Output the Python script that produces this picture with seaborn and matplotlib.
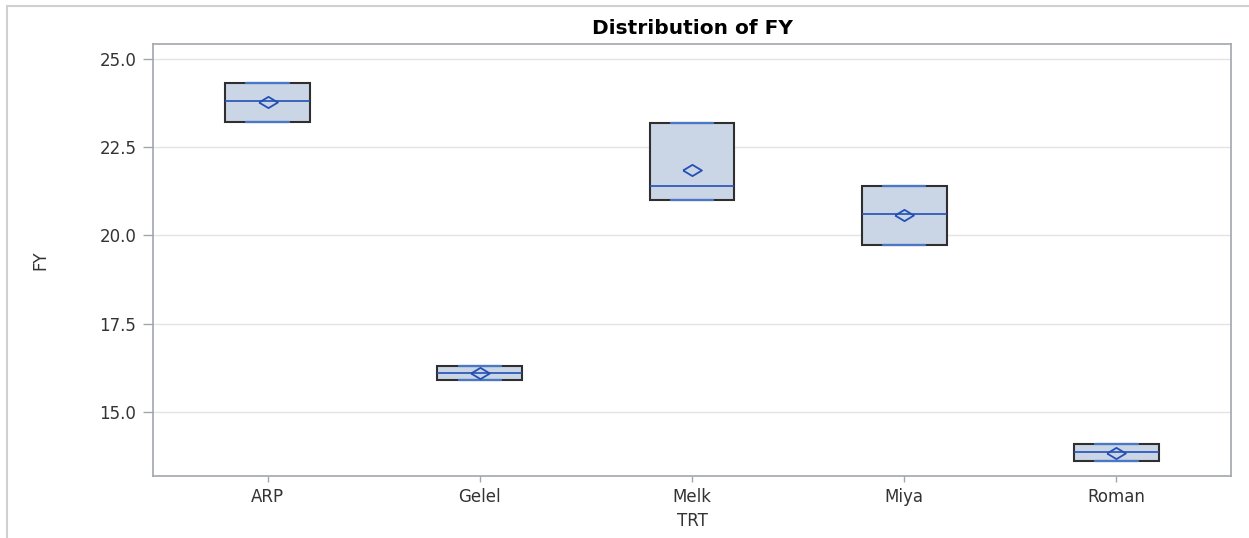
import numpy as np
import pandas as pd
import matplotlib
matplotlib.use("Agg")
import matplotlib.pyplot as plt
from matplotlib.lines import Line2D
import seaborn as sns

TRT = ["ARP", "Gelel", "Melk", "Miya", "Roman"]
obs_low = [23.22, 15.91, 21.01, 19.73, 13.61]
obs_mid = [23.80, 16.10, 21.40, 20.61, 13.86]
obs_high = [24.32, 16.30, 23.19, 21.40, 14.09]
y_ticks = [15.0, 17.5, 20.0, 22.5, 25.0]

df = pd.DataFrame({
    "TRT": np.repeat(TRT, 3),
    "FY": np.ravel(np.column_stack([obs_low, obs_mid, obs_high])),
})

sns.set_theme(style="white")
plt.rcParams["font.family"] = ["DejaVu Sans"]

fill = "#CAD5E6"
edge = "#2f2f2f"
blue = "#2450B4"
cap_blue = "#4A78C8"
spine_col = "#A2A7AD"
grid_col = "#E4E4E4"
text_col = "#333333"

fig = plt.figure(figsize=(12.49, 5.38), dpi=100)
ax = fig.add_axes([153 / 1249, 62 / 538, (1231 - 153) / 1249, (476 - 44) / 538])

# summary statistics (SAS-style percentile definition 5)
stats = []
for t in TRT:
    v = df.loc[df["TRT"] == t, "FY"].to_numpy()
    q1 = np.percentile(v, 25, method="averaged_inverted_cdf")
    q3 = np.percentile(v, 75, method="averaged_inverted_cdf")
    stats.append(dict(med=np.median(v), q1=q1, q3=q3, whislo=v.min(),
                      whishi=v.max(), mean=v.mean(), fliers=[], label=t))

pos = np.arange(len(TRT))
diamond = [(-1, 0), (0, 0.6), (1, 0), (0, -0.6), (-1, 0)]
ax.bxp(stats, positions=pos, widths=0.40, capwidths=0.20, patch_artist=True,
       showmeans=True, showfliers=False, manage_ticks=False,
       boxprops=dict(facecolor=fill, edgecolor=edge, linewidth=1.5),
       medianprops=dict(color=blue, linewidth=1.2),
       whiskerprops=dict(color=cap_blue, linewidth=1.3),
       capprops=dict(color=cap_blue, linewidth=1.6),
       meanprops=dict(marker=diamond, markerfacecolor="none",
                      markeredgecolor=blue, markersize=13.5, markeredgewidth=1.3),
       zorder=3)

ax.set_xlim(-0.54, 4.54)
ax.set_ylim(13.19, 25.42)
ax.set_xticks(pos)
ax.set_xticklabels(TRT)
ax.set_yticks(y_ticks)
ax.set_yticklabels([f"{t:.1f}" for t in y_ticks])
ax.yaxis.grid(True, color=grid_col, linewidth=1.0)
ax.xaxis.grid(False)
ax.set_axisbelow(True)

for s in ax.spines.values():
    s.set_color(spine_col)
    s.set_linewidth(1.2)

ax.tick_params(axis="y", which="major", direction="out", length=7, width=1,
               color=spine_col, labelsize=12, labelcolor=text_col, pad=5, left=True)
ax.tick_params(axis="x", which="major", direction="out", length=4, width=1,
               color=spine_col, labelsize=12, labelcolor=text_col, pad=5, bottom=True)

ax.set_xlabel("TRT", fontsize=12, color=text_col, labelpad=4)
ax.set_ylabel("FY", fontsize=12, color=text_col, labelpad=36)
ax.set_title("Distribution of FY", fontsize=14.5, fontweight="bold", color="black", pad=7)

# outer frame of the graph image
fig.add_artist(Line2D([7 / 1249, 1.0], [1 - 6 / 538, 1 - 6 / 538],
                      transform=fig.transFigure, color="#D0D0D0", linewidth=1.5))
fig.add_artist(Line2D([7 / 1249, 7 / 1249], [0.0, 1 - 6 / 538],
                      transform=fig.transFigure, color="#D0D0D0", linewidth=1.5))

fig.savefig("out.png", dpi=100, facecolor="white")
